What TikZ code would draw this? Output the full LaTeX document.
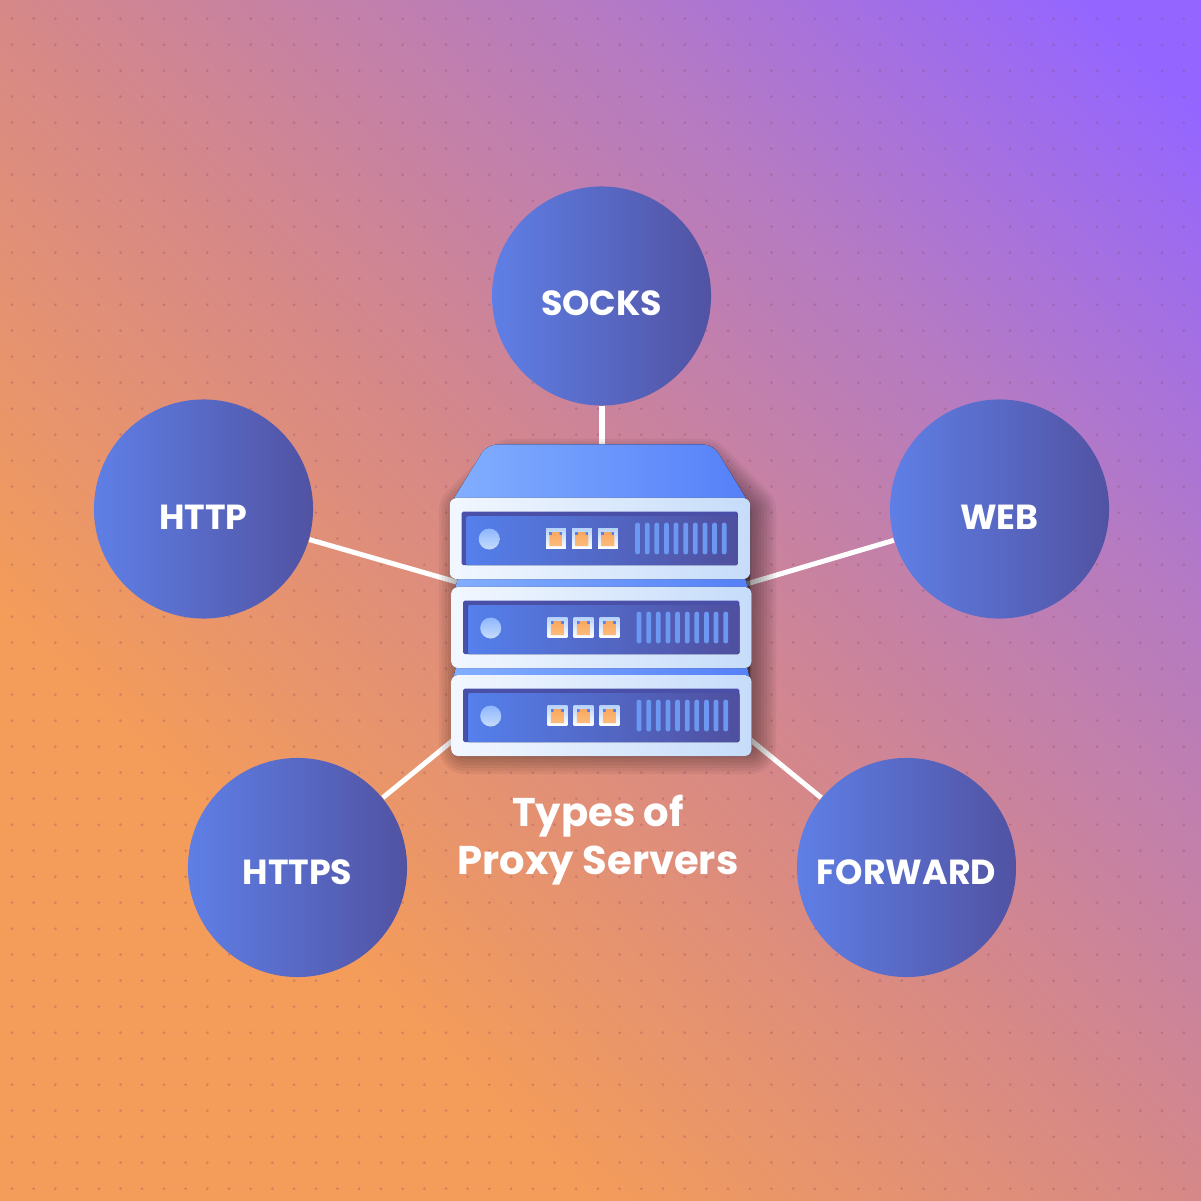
\documentclass[tikz,border=0pt]{standalone}
\usepackage{fontspec}
\setmainfont{Poppins}
\usetikzlibrary{positioning,calc}

\definecolor{bgorange}{HTML}{F49C5A}
\definecolor{bgmid}{HTML}{D68888}
\definecolor{bgmauve}{HTML}{B47AC4}
\definecolor{bgpurple}{HTML}{9566FF}
\definecolor{hubleft}{HTML}{5F7FE6}
\definecolor{hubright}{HTML}{5152A2}
\definecolor{lidleft}{HTML}{82AEFF}
\definecolor{lidright}{HTML}{5580F8}
\definecolor{caseleft}{HTML}{F2F7FF}
\definecolor{caseright}{HTML}{C6DCFA}
\definecolor{panelleft}{HTML}{5580EC}
\definecolor{panelright}{HTML}{4F4F9E}
\definecolor{paneledge}{HTML}{4A4FA8}
\definecolor{ventblue}{HTML}{6C98F2}
\definecolor{portdark}{HTML}{F9A85F}
\definecolor{portlight}{HTML}{FCBC7C}
\definecolor{dotcolor}{HTML}{8A4A60}

\pgfdeclarehorizontalshading{bgshade}{100bp}{%
  color(0bp)=(bgorange); color(32bp)=(bgorange);
  color(50bp)=(bgmid); color(67.7bp)=(bgmauve); color(82bp)=(bgpurple); color(100bp)=(bgpurple)}

\tikzset{
  hub/.style={circle, minimum size=2.19cm, inner sep=0pt, left color=hubleft, right color=hubright, text=white, font=\fontsize{9.9}{12}\selectfont\bfseries},
  link/.style={line width=.05cm, white},
  lid/.style={left color=lidleft, right color=lidright},
  case/.style={rounded corners=.07cm, left color=caseleft, right color=caseright},
  panel/.style={rounded corners=.015cm, left color=panelleft, right color=panelright},
  vent/.style={fill=ventblue, rounded corners=.02cm},
  title/.style={text=white, align=center, font=\fontsize{11.4}{13.6}\selectfont\bfseries}
}

% text sits a little under the middle of each circle
\newcommand{\hubtext}[2]{\smash{\raisebox{-#1cm}{#2}}}

% one server unit, #1 is the top left corner of the case
\newcommand{\serverunit}[1]{
  \begin{scope}[shift={(#1)}, x=1cm, y=1cm]
    \fill[case] (0,0) rectangle (3.005,-.81);
    \fill[paneledge, rounded corners=.015cm] (.122,-.137) rectangle (2.882,-.67);
    \fill[panel] (.165,-.18) rectangle (2.882,-.67);
    \shade[top color=lidleft!90, bottom color=caseright] (.397,-.41) circle (.105);
    \foreach \p in {0,1,2}{
      \begin{scope}[xshift=\p*.26cm]
        \shade[top color=caseright!80!lidleft, bottom color=white] (.965,-.307) rectangle (1.162,-.5);
        \fill[hubleft] (.998,-.34) rectangle (1.128,-.37);
        \shade[top color=portdark, bottom color=portlight] (.998,-.48) -- (1.128,-.48) -- (1.128,-.37) -- (1.1,-.37) -- (1.1,-.34) -- (1.025,-.34) -- (1.025,-.37) -- (.998,-.37) -- cycle;
      \end{scope}
    }
    \foreach \v in {0,...,9}{
      \fill[vent] ({1.856+\v*.0962},-.247) rectangle ++(.047,-.316);
    }
  \end{scope}
}

\begin{document}
\begin{tikzpicture}[x=.01cm, y=-.01cm]
  \useasboundingbox (0,0) rectangle (1201,1201);

  % background and dots
  \fill[shading=bgshade, shading angle=45] (0,0) rectangle (1201,1201);
  \foreach \i in {0,...,54}{
    \foreach \j in {0,...,45}{
      \fill[dotcolor, opacity=.3] ({12+\i*21.7},{18.7+\j*26}) circle (1.5);
    }
  }

  % circles
  \node[hub] (socks) at (601.5,296) {\hubtext{.19}{SOCKS}};
  \node[hub] (http) at (203.5,509) {\hubtext{.2}{HTTP}};
  \node[hub] (web) at (999.5,509) {\hubtext{.2}{WEB}};
  \node[hub] (https) at (297.5,867.5) {\hubtext{.17}{HTTPS}};
  \node[hub] (forward) at (906.5,867.5) {\hubtext{.17}{FORWARD}};

  % free ends of the lines, behind the server
  \coordinate (top-end) at (601.5,450);
  \coordinate (west-end) at (460,583);
  \coordinate (east-end) at (743,585);
  \coordinate (sw-end) at (457,737);
  \coordinate (se-end) at (747,737);

  \draw[link, line width=.06cm] (socks) -- (top-end);
  \draw[link] (http) -- (west-end);
  \draw[link] (web) -- (east-end);
  \draw[link] (https) -- (sw-end);
  \draw[link] (forward) -- (se-end);

  % shadow of the server
  \foreach \g in {4,10,...,52}{
    \fill[black, opacity=.05, draw=black, line width=\g*.01cm, line join=round] (510,465) -- (705,465) -- (750,510) -- (750,748) -- (465,748) -- (465,510) -- cycle;
  }

  % server
  \fill[lid] (453,500) [rounded corners=.1cm] -- (487,444.5) -- (713,444.5) [sharp corners] -- (747,500) -- cycle;
  \fill[lid] (454,592) -- (459,575) -- (744,575) -- (749,592) -- cycle;
  \fill[lid] (453,680) -- (457,662) -- (746,662) -- (750,680) -- cycle;
  \serverunit{449.5,498}
  \serverunit{451,587}
  \serverunit{451,675}

  \node[title] (label) at (598,840) {Types of\\Proxy Servers};
\end{tikzpicture}
\end{document}
